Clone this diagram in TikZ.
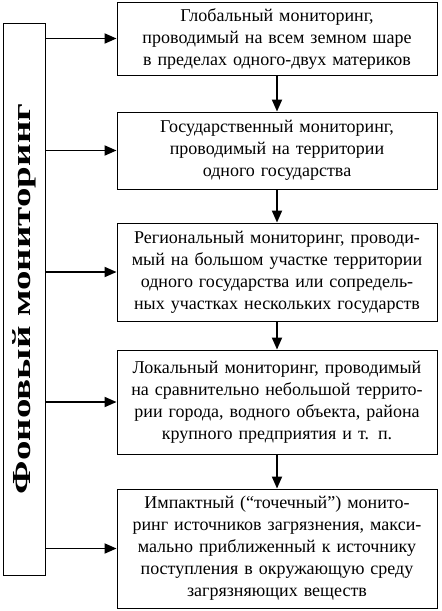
\documentclass[tikz,border=0pt]{standalone}
\usepackage{fontspec}
\setmainfont{Liberation Serif}
\usepackage{graphicx}
\usetikzlibrary{arrows.meta}
\usetikzlibrary{positioning}
\tikzstyle{levelbox}=[draw,line width=0.9pt,minimum width=320pt,text width=310pt,inner xsep=5pt,align=center,font=\fontsize{18}{22}\selectfont]
\tikzstyle{fonbox}=[draw,line width=0.9pt,minimum width=42pt,minimum height=552pt,inner sep=0pt]
\tikzstyle{link}=[-{Triangle[length=12pt,width=10pt]},line width=1.8pt]

\begin{document}
\begin{tikzpicture}[x=1pt,y=-1pt]

   \useasboundingbox[fill=white] (0,0) rectangle (442,611);

% left column
  \node[fonbox] (fon) at (24,299) {\rotatebox{90}{\scalebox{1.5}[1]{\fontsize{26}{30}\selectfont\bfseries Фоновый мониторинг}}};

% levels of monitoring
  \node[levelbox,minimum height=73pt] (glob) at (277,38.5) {Глобальный мониторинг,\\ проводимый на всем земном шаре\\ в пределах одного-двух материков};
  \node[levelbox,minimum height=77pt] (gos) at (277,150.5) {Государственный мониторинг,\\ проводимый на территории\\ одного государства};
  \node[levelbox,minimum height=98pt] (reg) at (277,272) {Региональный мониторинг, проводи-\\мый на большом участке территории\\ одного государства или сопредель-\\ных участках нескольких государств};
  \node[levelbox,minimum height=104pt] (lok) at (277,402) {Локальный мониторинг, проводимый\\ на сравнительно небольшой террито-\\рии города, водного объекта, района\\ крупного предприятия и т. п.};
  \node[levelbox,minimum height=119pt] (imp) at (277,548.5) {Импактный (“точечный”) монито-\\ринг источников загрязнения, макси-\\мально приближенный к источнику\\ поступления в окружающую среду\\ загрязняющих веществ};

    \foreach \name in {glob, gos, reg, lok, imp}
        \draw[link] (fon.east |- \name.west) -- (\name.west);

    \foreach \source/\dest in {glob/gos, gos/reg, reg/lok, lok/imp}
        \draw[link] (\source) -- (\dest);

\end{tikzpicture}
\end{document}
